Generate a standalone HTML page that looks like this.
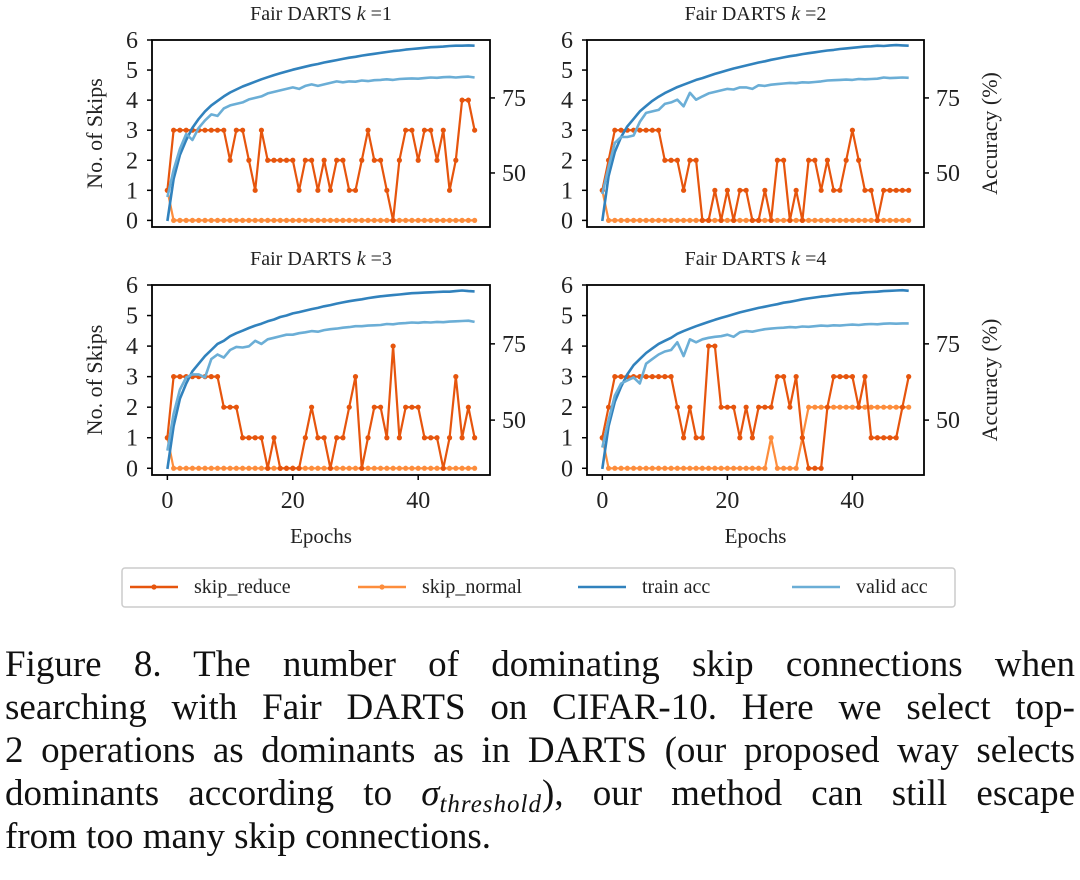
<!DOCTYPE html>
<html><head><meta charset="utf-8">
<style>
html,body{margin:0;padding:0;background:#fff;width:1080px;height:880px;overflow:hidden;}
svg{position:absolute;left:0;top:0;}
text{font-family:"Liberation Serif",serif;fill:#222;}
#caption{position:absolute;left:5px;top:643px;width:1070px;font-family:"Liberation Serif",serif;font-size:37px;line-height:43px;color:#111;}
#caption .ln{text-align:justify;text-align-last:justify;white-space:nowrap;height:43px;}
#caption .last{text-align:left;text-align-last:left;}
#caption sub{font-size:25px;line-height:0;vertical-align:-7px;letter-spacing:1px;}
</style></head>
<body>
<svg id="fig" width="1080" height="640"></svg>
<div id="caption">
<div class="ln" style="white-space:normal">Figure 8. The number of dominating skip connections when</div>
<div class="ln" style="white-space:normal">searching with Fair DARTS on CIFAR-10. Here we select top-</div>
<div class="ln" style="white-space:normal">2 operations as dominants as in DARTS (our proposed way selects</div>
<div class="ln" style="white-space:normal">dominants according to <i>σ<sub>threshold</sub></i>), our method can still escape</div>
<div class="ln last">from too many skip connections.</div>
</div>
<script>
const epochs = Array.from({length:50},(_,i)=>i);
const kLabels = ["1","2","3","4"];
const leftTicks = [0,1,2,3,4,5,6];
const rightTicks = [50,75];
const xTicks = [0,20,40];

const reduce1 = [1,3,3,3,3,3,3,3,3,3,2,3,3,2,1,3,2,2,2,2,2,1,2,2,1,2,1,2,2,1,1,2,3,2,2,1,0,2,3,3,2,3,3,2,3,1,2,4,4,3];
const reduce2 = [1,2,3,3,3,3,3,3,3,3,2,2,2,1,2,2,0,0,1,0,1,0,1,1,0,0,1,0,2,2,0,1,0,2,2,1,2,1,1,2,3,2,1,1,0,1,1,1,1,1];
const reduce3 = [1,3,3,3,3,3,3,3,3,2,2,2,1,1,1,1,0,1,0,0,0,0,1,2,1,1,0,1,1,2,3,0,1,2,2,1,4,1,2,2,2,1,1,1,0,1,3,1,2,1];
const reduce4 = [1,2,3,3,3,3,3,3,3,3,3,3,2,1,2,1,1,4,4,2,2,2,1,2,1,2,2,2,3,3,2,3,1,0,0,0,2,3,3,3,3,2,3,1,1,1,1,1,2,3];

const normal1 = [1,0,0,0,0,0,0,0,0,0,0,0,0,0,0,0,0,0,0,0,0,0,0,0,0,0,0,0,0,0,0,0,0,0,0,0,0,0,0,0,0,0,0,0,0,0,0,0,0,0];
const normal2 = [1,0,0,0,0,0,0,0,0,0,0,0,0,0,0,0,0,0,0,0,0,0,0,0,0,0,0,0,0,0,0,0,0,0,0,0,0,0,0,0,0,0,0,0,0,0,0,0,0,0];
const normal3 = [1,0,0,0,0,0,0,0,0,0,0,0,0,0,0,0,0,0,0,0,0,0,0,0,0,0,0,0,0,0,0,0,0,0,0,0,0,0,0,0,0,0,0,0,0,0,0,0,0,0];
const normal4 = [1,0,0,0,0,0,0,0,0,0,0,0,0,0,0,0,0,0,0,0,0,0,0,0,0,0,0,1,0,0,0,0,1,2,2,2,2,2,2,2,2,2,2,2,2,2,2,2,2,2];

const train1 = [34,48,56,61,65,68,70.5,72.5,74,75.5,76.8,77.8,78.8,79.6,80.4,81.2,81.9,82.6,83.2,83.8,84.4,84.9,85.4,85.9,86.3,86.8,87.2,87.6,88,88.4,88.7,89.1,89.4,89.7,90,90.3,90.6,90.8,91.1,91.3,91.5,91.7,91.9,92,92.1,92.3,92.4,92.4,92.5,92.4];
const valid1 = [42,51,58,63,61,65,67.5,69.5,69,71.5,72.5,73,73.5,74.5,75,75.5,76.5,77,77.5,78,78.5,78,79,79.5,79,79.5,80,80.5,80.2,80.5,80.4,80.8,80.6,80.9,81,81.2,81,81.3,81.4,81.5,81.4,81.6,81.8,81.7,81.9,82,81.8,82,82.1,81.8];
const train2 = [34,49,57,62,65.5,68,70.5,72.3,74,75.4,76.6,77.6,78.6,79.4,80.2,81,81.6,82.3,83,83.6,84.2,84.8,85.3,85.8,86.3,86.8,87.2,87.7,88.1,88.5,88.9,89.2,89.6,89.9,90.2,90.5,90.8,91,91.3,91.5,91.7,91.9,92.1,92.2,92.4,92.3,92.5,92.6,92.5,92.4];
const valid2 = [43,52,60,62,62,62.5,67,70,70.5,71,73,73.5,74.4,72.2,76.7,74.4,75.5,76.5,77,77.5,78,77.8,78.5,78.5,78,79.2,79,79.4,79.6,79.8,80,79.9,80.2,80.1,80.3,80.5,80.8,80.9,81,81.1,81,81.3,81.2,81.3,81.4,81.8,81.6,81.7,81.8,81.7];
const train3 = [34,48,57,62,66,68.5,71,73,75,76,77.5,78.5,79.3,80.2,81,81.6,82.4,83,83.8,84.3,85,85.4,85.9,86.4,86.8,87.3,87.7,88.2,88.6,89,89.3,89.6,90,90.3,90.6,90.8,91,91.2,91.4,91.6,91.7,91.8,91.9,92,92.1,92.1,92.3,92.5,92.3,92.2];
const valid3 = [40,52,60,64,65,65,64,70,71.5,70.5,73,74,73.8,74.2,76,75,76.5,77,77.5,78,78,78.5,78.8,79.2,79,79.5,79.8,80,80.3,80.5,80.8,80.8,81,81.1,81.2,81.5,81.4,81.7,81.8,82,81.9,82.1,82,82.2,82.1,82.3,82.4,82.5,82.6,82.2];
const train4 = [34,48,56,61,65,68,70,72,73.5,75,76,77,78.3,79.2,80,80.8,81.5,82.2,82.9,83.5,84.1,84.7,85.3,85.8,86.3,86.8,87.2,87.6,88,88.5,88.8,89.2,89.6,89.9,90.2,90.5,90.7,91,91.2,91.4,91.6,91.7,91.9,92,92.1,92.3,92.4,92.5,92.6,92.4];
const valid4 = [41,50,58,62,63,64,62,68.5,70,71.5,72.5,73,75.5,71,76.5,75.5,76.5,77,77.3,77.5,78,77.3,78.8,79.2,79,79.4,79.8,80,80.2,80.3,80.5,80.4,80.7,80.6,80.8,81,80.9,81.1,81,81.2,81.3,81.2,81.4,81.5,81.4,81.6,81.7,81.6,81.7,81.7];

const reduceSets=[reduce1,reduce2,reduce3,reduce4];
const normalSets=[normal1,normal2,normal3,normal4];
const trainSets=[train1,train2,train3,train4];
const validSets=[valid1,valid2,valid3,valid4];

const NS="http://www.w3.org/2000/svg";
const svg=document.getElementById('fig');
function el(tag,attrs,parent){const e=document.createElementNS(NS,tag);for(const k in attrs)e.setAttribute(k,attrs[k]);(parent||svg).appendChild(e);return e;}
const C={reduce:"#e6550d",normal:"#fd8d3c",train:"#3182bd",valid:"#6baed6"};
const panels=[{l:152,r:490,t:40,b:227},{l:587,r:924,t:40,b:227},{l:152,r:490,t:285,b:475},{l:587,r:924,t:285,b:475}];

panels.forEach((p,pi)=>{
  const g=el('g',{});
  
  
  const xs=v=>p.l+(v+2.45)/53.9*(p.r-p.l);
  const yl=v=>p.b-(v+0.22)/6.22*(p.b-p.t);
  const yr=v=>p.b-(v-32)/62.3*(p.b-p.t);
  function poly(arr,sc,color,w,name){
    const pts=arr.map((v,i)=>xs(epochs[i]).toFixed(1)+','+sc(v).toFixed(1)).join(' ');
    const pl=el('polyline',{points:pts,fill:'none',stroke:color,'stroke-width':w,'stroke-linejoin':'round'},g);
    
    
  }
  function markers(arr,color,name){
    arr.forEach((v,i)=>{
      const c=el('circle',{cx:xs(epochs[i]),cy:yl(v),r:2.6,fill:color},g);
      
      
    });
  }
  poly(normalSets[pi],yl,C.normal,2.2,'skip-normal-line');markers(normalSets[pi],C.normal,'skip-normal-point');
  poly(reduceSets[pi],yl,C.reduce,2.2,'skip-reduce-line');markers(reduceSets[pi],C.reduce,'skip-reduce-point');
  poly(trainSets[pi],yr,C.train,2.6,'train-acc-line');
  poly(validSets[pi],yr,C.valid,2.6,'valid-acc-line');
  const fr=el('rect',{x:p.l,y:p.t,width:p.r-p.l,height:p.b-p.t,fill:'none',stroke:'#000','stroke-width':1.8},g);
  
  
  leftTicks.forEach(v=>{
    el('line',{x1:p.l-5,x2:p.l,y1:yl(v),y2:yl(v),stroke:'#000','stroke-width':1.5},g);
    const t=el('text',{x:p.l-14,y:yl(v)+8,'font-size':24,'text-anchor':'end'},g);t.textContent=v;
    
    
  });
  rightTicks.forEach(v=>{
    el('line',{x1:p.r,x2:p.r+5,y1:yr(v),y2:yr(v),stroke:'#000','stroke-width':1.5},g);
    const t=el('text',{x:p.r+12,y:yr(v)+8,'font-size':24},g);t.textContent=v;
    
    
  });
  if(pi>=2){
    xTicks.forEach(v=>{
      el('line',{x1:xs(v),x2:xs(v),y1:p.b,y2:p.b+5,stroke:'#000','stroke-width':1.5},g);
      const t=el('text',{x:xs(v),y:p.b+33,'font-size':24,'text-anchor':'middle'},g);t.textContent=v;
      
      
    });
    const xl=el('text',{x:(p.l+p.r)/2,y:p.b+68,'font-size':21,'text-anchor':'middle'},g);xl.textContent='Epochs';
    
    
  }
  const tt=el('text',{x:(p.l+p.r)/2,y:p.t-20,'font-size':20,'text-anchor':'middle'},g);
  tt.innerHTML='Fair DARTS <tspan font-style="italic">k</tspan> ='+kLabels[pi];
  
  
  const cy=(p.t+p.b)/2;
  if(pi%2===0){
    const yt=el('text',{x:0,y:0,'font-size':22,'text-anchor':'middle',transform:`translate(102,${cy}) rotate(-90)`},g);yt.textContent='No. of Skips';
    
    
  } else {
    const yt=el('text',{x:0,y:0,'font-size':22,'text-anchor':'middle',transform:`translate(997,${cy}) rotate(-90)`},g);yt.textContent='Accuracy (%)';
    
    
  }
});

const lg=el('g',{});


const lb=el('rect',{x:122,y:568,width:833,height:39,rx:3,fill:'#fff',stroke:'#ccc','stroke-width':1.5},lg);


const entries=[{x:130,label:'skip_reduce',c:C.reduce,m:true},{x:358,label:'skip_normal',c:C.normal,m:true},{x:578,label:'train acc',c:C.train,m:false},{x:792,label:'valid acc',c:C.valid,m:false}];
entries.forEach(e=>{
  const eg=el('g',{},lg);
  
  
  el('line',{x1:e.x,x2:e.x+48,y1:587,y2:587,stroke:e.c,'stroke-width':2.6},eg);
  if(e.m) el('circle',{cx:e.x+24,cy:587,r:2.6,fill:e.c},eg);
  const t=el('text',{x:e.x+64,y:593,'font-size':20},eg);t.textContent=e.label;
});
</script>
</body></html>
